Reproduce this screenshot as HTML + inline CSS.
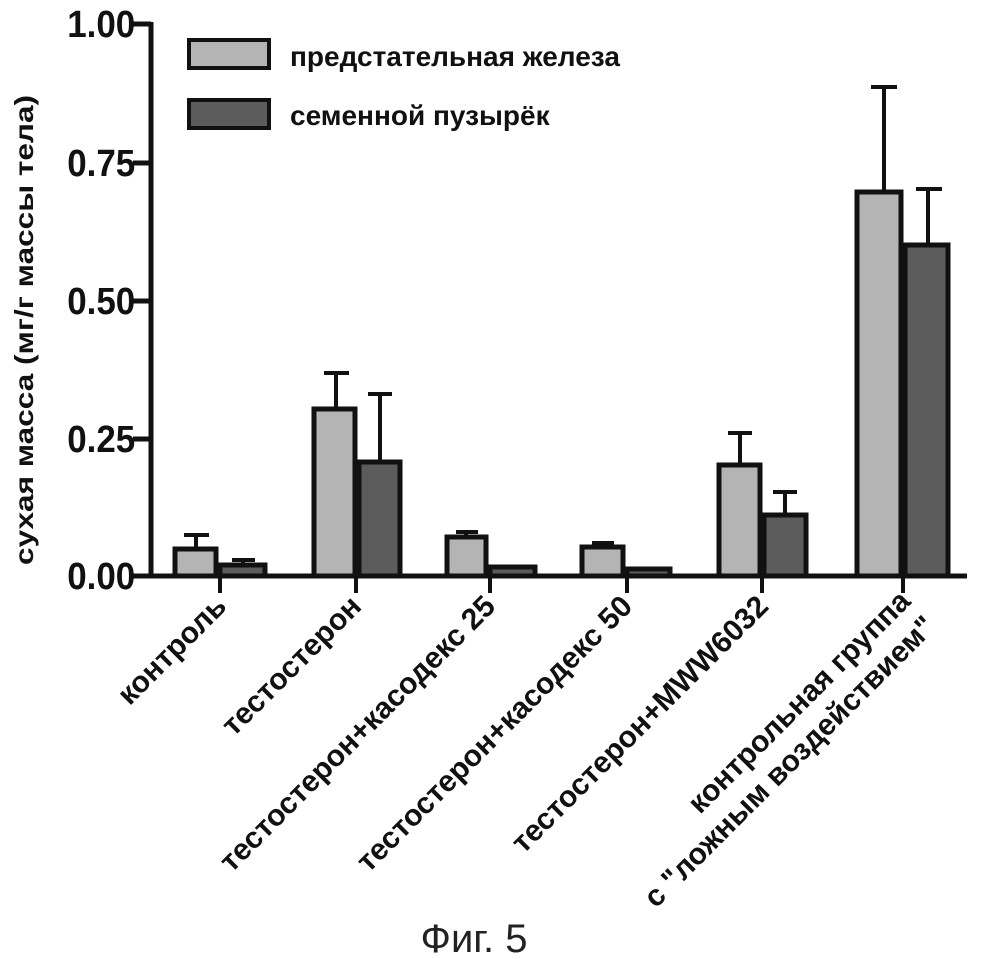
<!DOCTYPE html>
<html><head><meta charset="utf-8"><style>
html,body{margin:0;padding:0;background:#fff;}
svg{display:block;}
text{font-family:"Liberation Sans",sans-serif;}
</style></head><body>
<svg width="984" height="959" viewBox="0 0 984 959" xmlns="http://www.w3.org/2000/svg">
<g stroke="#111" fill="none">
<g stroke-width="5">
<rect x="175" y="549" width="41" height="27" fill="#b4b4b4"/>
<rect x="220" y="565" width="45" height="11" fill="#5c5c5c"/>
<rect x="314" y="409" width="41" height="167" fill="#b4b4b4"/>
<rect x="359" y="462" width="41" height="114" fill="#5c5c5c"/>
<rect x="447" y="537" width="39" height="39" fill="#b4b4b4"/>
<rect x="490" y="567" width="45" height="9" fill="#5c5c5c"/>
<rect x="582" y="547" width="41" height="29" fill="#b4b4b4"/>
<rect x="627" y="569" width="43" height="7" fill="#5c5c5c"/>
<rect x="719" y="465" width="41" height="111" fill="#b4b4b4"/>
<rect x="764" y="515" width="42" height="61" fill="#5c5c5c"/>
<rect x="857" y="192" width="44" height="384" fill="#b4b4b4"/>
<rect x="905" y="245" width="43" height="331" fill="#5c5c5c"/>
</g>
<g stroke-width="4">
<path d="M196 547V535M184 535H209"/>
<path d="M243 563V560M232 560H255"/>
<path d="M336 407V373M324 373H349"/>
<path d="M380 460V394M368 394H392"/>
<path d="M466 535V532M456 532H478"/>
<path d="M602 545V543M592 543H614"/>
<path d="M740 463V433M728 433H752"/>
<path d="M785 513V492M773 492H797"/>
<path d="M884 190V87M871 87H897"/>
<path d="M928 243V189M916 189H942"/>
</g>
<path d="M151 22V578M148 576H967" stroke-width="5"/>
<path d="M133 24H151M133 163H151M133 301H151M133 439H151M133 576H151" stroke-width="5"/>
<path d="M220 576V593M356 576V593M490 576V593M627 576V593M762 576V593M903 576V593" stroke-width="4"/>
<rect x="189" y="40" width="80" height="28" fill="#b4b4b4" stroke-width="4"/>
<rect x="189" y="100" width="80" height="28" fill="#5c5c5c" stroke-width="4"/>
</g>
<g font-weight="bold" fill="#111">
<g font-size="38" text-anchor="end" transform="scale(0.92,1)">
<text x="147" y="37">1.00</text>
<text x="147" y="176">0.75</text>
<text x="147" y="314">0.50</text>
<text x="147" y="452">0.25</text>
<text x="147" y="589">0.00</text>
</g>
<text x="290" y="66" font-size="28">предстательная железа</text>
<text x="290" y="125" font-size="28">семенной пузырёк</text>
<text transform="translate(33,330) rotate(-90)" text-anchor="middle" font-size="26" textLength="470" lengthAdjust="spacingAndGlyphs">сухая масса (мг/г массы тела)</text>
<g font-size="30" text-anchor="end">
<text transform="translate(228,608) rotate(-45)">контроль</text>
<text transform="translate(363,608) rotate(-45)">тестостерон</text>
<text transform="translate(497,608) rotate(-45)">тестостерон+касодекс 25</text>
<text transform="translate(634,608) rotate(-45)">тестостерон+касодекс 50</text>
<text transform="translate(770,608) rotate(-45)">тестостерон+MWW6032</text>
<text transform="translate(912,603) rotate(-45)">контрольная группа</text>
<text transform="translate(937,628) rotate(-45)">с "ложным воздействием"</text>
</g>
</g>
<text x="474" y="952" font-size="40" text-anchor="middle" fill="#222">Фиг. 5</text>
</svg>
</body></html>
